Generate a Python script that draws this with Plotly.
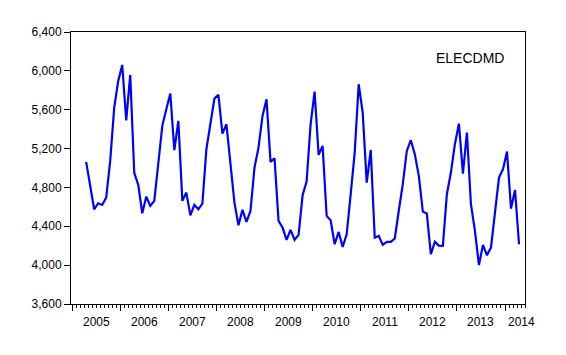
import plotly.graph_objects as go
import pandas as pd

start_month = "2005-04"
elecdmd = [
    5063, 4819, 4575, 4637, 4620, 4695, 5073, 5622, 5897,
    6061, 5491, 5958, 4950, 4826, 4534, 4706, 4610, 4662, 5039, 5434, 5605,
    5766, 5183, 5485, 4662, 4747, 4513, 4620, 4575, 4634, 5193, 5450, 5715,
    5753, 5354, 5450, 5054, 4644, 4411, 4569, 4445, 4558, 5004, 5210, 5536,
    5707, 5063, 5100, 4455, 4387, 4260, 4363, 4260, 4311, 4719, 4860, 5450,
    5787, 5135, 5228, 4507, 4462, 4215, 4342, 4188, 4318, 4730, 5159, 5862,
    5570, 4850, 5186, 4284, 4301, 4209, 4240, 4240, 4274, 4560, 4833, 5176,
    5286, 5141, 4919, 4551, 4531, 4112, 4240, 4201, 4198, 4730, 4953, 5245,
    5457, 4943, 5365, 4627, 4353, 4000, 4209, 4102, 4181, 4541, 4901, 4987,
    5169, 4582, 4775, 4215,
]
years = [2005, 2006, 2007, 2008, 2009, 2010, 2011, 2012, 2013, 2014]
y_ticks = [3600, 4000, 4400, 4800, 5200, 5600, 6000, 6400]
series_name = "ELECDMD"

periods = pd.period_range(start_month, periods=len(elecdmd), freq="M")
base = years[0]
x = [(p.year - base) * 12 + (p.month - 1) + 0.5 for p in periods]

fig = go.Figure()
fig.add_trace(go.Scatter(x=x, y=elecdmd, mode="lines",
                         line=dict(color="#0000FF", width=2.2),
                         showlegend=False, hoverinfo="skip"))

year_ticks = [(yr - base) * 12 for yr in years]
fig.update_xaxes(
    range=[-0.28, 112.99], showgrid=False, zeroline=False,
    showline=True, linecolor="black", linewidth=1, mirror=True,
    tickmode="array", tickvals=year_ticks, ticktext=["" for _ in years],
    ticks="outside", ticklen=6, tickcolor="black", tickwidth=1,
    minor=dict(tickmode="linear", tick0=0, dtick=1, ticks="outside",
               ticklen=3, tickcolor="black", tickwidth=1, showgrid=False),
)
fig.update_yaxes(
    range=[3600, 6400], showgrid=False, zeroline=False,
    showline=True, linecolor="black", linewidth=1, mirror=True,
    tickmode="array", tickvals=y_ticks, tickformat=",d",
    ticks="outside", ticklen=6, tickcolor="black", tickwidth=1,
    tickfont=dict(family="Liberation Sans, Arial", size=12, color="black"),
)

label_pos = [(yr - base) * 12 + 6 for yr in years[:-1]] + [112.1]
for yr, xp in zip(years, label_pos):
    fig.add_annotation(x=xp, y=-0.067, xref="x", yref="paper", text=str(yr),
                       showarrow=False, xanchor="center", yanchor="middle",
                       font=dict(family="Liberation Sans, Arial", size=12, color="black"))

fig.add_annotation(x=0.879, y=0.906, xref="paper", yref="paper", text=series_name,
                   showarrow=False, xanchor="center", yanchor="middle",
                   font=dict(family="Liberation Sans, Arial", size=14, color="black"))

# page body has an 8px default margin; compensate so the plot area lands at 71..525 x 32..304
fig.update_layout(
    width=566, height=355,
    margin=dict(l=63, r=49, t=24, b=59),
    paper_bgcolor="white", plot_bgcolor="white",
)
fig.write_html("out.html")
